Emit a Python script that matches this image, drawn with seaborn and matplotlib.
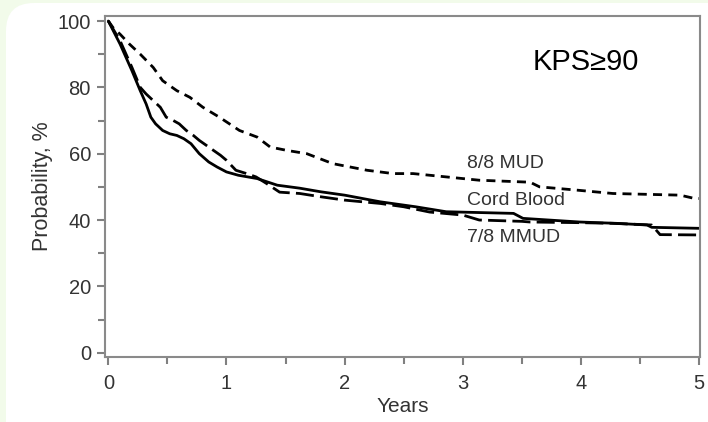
import numpy as np
import pandas as pd
import matplotlib
matplotlib.use("Agg")
import matplotlib.pyplot as plt
from matplotlib.patches import FancyBboxPatch
import seaborn as sns

# ---- data ----
cb_t = [0, 0.1, 0.2, 0.27, 0.32, 0.36, 0.4, 0.46, 0.52, 0.58, 0.64, 0.7, 0.77, 0.85,
        0.92, 1.0, 1.1, 1.26, 1.43, 1.62, 1.8, 2.0, 2.3, 2.6, 2.86, 3.2, 3.43, 3.51,
        3.99, 4.3, 4.56, 4.6, 5.0]
cb_p = [100, 93, 85, 79, 75, 71, 69, 67, 66, 65.5, 64.5, 63, 60, 57.5,
        56, 54.5, 53.5, 52.5, 50.5, 49.6, 48.5, 47.5, 45.5, 44, 42.5, 42.2, 42, 40.5,
        39.4, 39, 38.5, 37.8, 37.5]

mm_t = [0, 0.1, 0.2, 0.27, 0.32, 0.38, 0.44, 0.49, 0.55, 0.6, 0.66, 0.72, 0.77, 0.83,
        0.89, 0.95, 1.0, 1.08, 1.17, 1.25, 1.34, 1.45, 1.62, 1.8, 2.0, 2.3, 2.5, 2.72,
        3.0, 3.14, 3.5, 3.57, 4.0, 4.27, 4.6, 4.67, 5.0]
mm_p = [100, 94, 86, 80, 78, 76, 74, 71, 70, 69, 67, 65.5, 64, 62.5,
        61, 59.5, 58, 55, 54, 53, 51, 48.4, 48, 47, 46, 45, 44, 42.4,
        41.5, 40, 39.6, 39.4, 39.2, 39, 38.5, 35.6, 35.5]

mud_t = [0, 0.04, 0.1, 0.18, 0.27, 0.38, 0.46, 0.58, 0.69, 0.8, 0.94, 1.11, 1.26, 1.37,
         1.51, 1.68, 1.9, 2.19, 2.41, 2.58, 3.14, 3.57, 3.65, 3.97, 4.27, 4.84, 4.95, 5.0]
mud_p = [100, 98, 96, 93, 90, 86, 82, 79, 77, 74, 71, 67, 65, 62,
         61, 60, 57, 55, 54, 54, 52, 51.4, 50, 49, 48, 47.5, 46.6, 46.5]

series_names = ["Cord Blood", "7/8 MMUD", "8/8 MUD"]
x_ticks = [0, 1, 2, 3, 4, 5]
y_ticks = [0, 20, 40, 60, 80, 100]

df = pd.concat([
    pd.DataFrame({"Years": cb_t, "Prob": cb_p, "Group": series_names[0]}),
    pd.DataFrame({"Years": mm_t, "Prob": mm_p, "Group": series_names[1]}),
    pd.DataFrame({"Years": mud_t, "Prob": mud_p, "Group": series_names[2]}),
], ignore_index=True)

sns.set_theme(style="ticks")
plt.rcParams["font.family"] = ["Liberation Sans", "DejaVu Sans"]
plt.rcParams["lines.scale_dashes"] = False

fig = plt.figure(figsize=(7.08, 4.22), dpi=100)
fig.patch.set_facecolor("#f2fbea")
bg = FancyBboxPatch((6, -30), 760, 449, boxstyle="round,pad=0,rounding_size=28",
                    transform=None, facecolor="white", edgecolor="none", zorder=-10)
fig.patches.append(bg)

ax = fig.add_axes([0.148, 0.154, 0.841, 0.808])
ax.set_zorder(5)
ax.set_facecolor("white")

sns.lineplot(data=df, x="Years", y="Prob", hue="Group", style="Group",
             palette={n: "black" for n in series_names},
             dashes={"Cord Blood": "", "7/8 MMUD": (13, 4.5), "8/8 MUD": (6.5, 4.5)},
             linewidth=2.0, sort=False, estimator=None, legend=False, ax=ax)

ax.set_xlim(-0.03, 5.01)
ax.set_ylim(-1.3, 101.5)
ax.set_xticks(x_ticks)
ax.set_xticks([0.5, 1.5, 2.5, 3.5, 4.5], minor=True)
ax.set_yticks(y_ticks)
ax.set_yticks([10, 30, 50, 70, 90], minor=True)
ax.tick_params(axis="both", which="both", direction="out", color="#808080", width=1.5,
               labelsize=14.5, labelcolor="#333333")
ax.tick_params(axis="x", which="major", length=6, pad=6)
ax.tick_params(axis="y", which="major", length=6, pad=4)
ax.tick_params(axis="both", which="minor", length=5)
for s in ax.spines.values():
    s.set_visible(True)
    s.set_color("#8a8a8a")
    s.set_linewidth(1.5)

ax.set_xlabel("Years", fontsize=15, color="#333333", labelpad=3)
ax.set_ylabel("Probability, %", fontsize=15.5, color="#333333", labelpad=3)

ax.text(3.04, 57, "8/8 MUD", fontsize=14, color="#333333", va="center", ha="left")
ax.text(3.04, 46, "Cord Blood", fontsize=14, color="#333333", va="center", ha="left")
ax.text(3.04, 34.8, "7/8 MMUD", fontsize=14, color="#333333", va="center", ha="left")
ax.text(3.59, 87.5, "KPS≥90", fontsize=21, color="black", va="center", ha="left")

fig.savefig("out.png", dpi=100, facecolor=fig.get_facecolor())
